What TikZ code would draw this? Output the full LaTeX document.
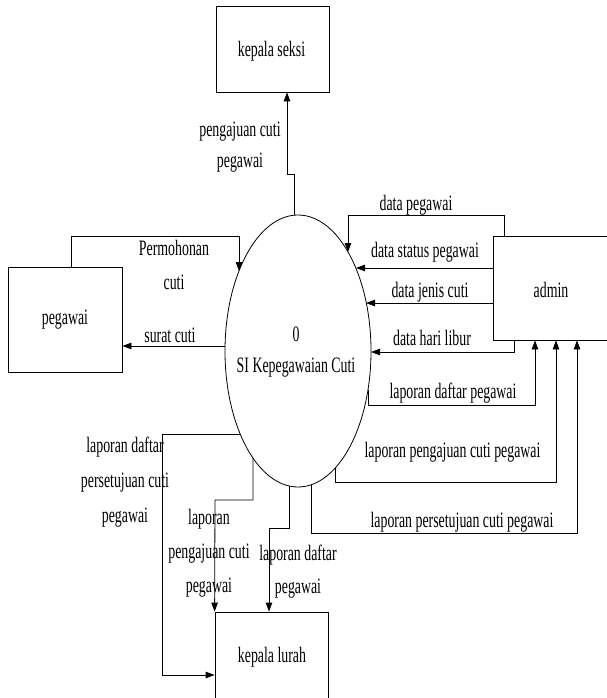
\documentclass[tikz,border=0pt]{standalone}
\usepackage{fontspec}
\setmainfont{Liberation Serif}[FakeStretch=0.63]
\usetikzlibrary{arrows.meta,shapes.geometric}
\begin{document}
\begin{tikzpicture}[x=1pt,y=-1pt,line width=0.8pt,
  every node/.style={font=\fontsize{22}{34}\selectfont, inner sep=0pt},
  ent/.style={draw, rectangle},
  flow/.style={draw, -{Triangle[length=9pt,width=6.5pt]}},
  lbl/.style={align=center}]
\useasboundingbox (0,0) rectangle (606,698);
% entities
\node[ent, minimum width=113pt, minimum height=86pt] (seksi) at (272.5,49) {};
\node (seksitxt) at (271.5,51.5) {kepala seksi};
\node[ent, minimum width=114pt, minimum height=105pt] (pegawai) at (65,319.5) {};
\node (pegawaitxt) at (65,320) {pegawai};
\node[ent, minimum width=116pt, minimum height=104pt] (admin) at (551,288) {};
\node (admintxt) at (551,290) {admin};
\node[ent, minimum width=113pt, minimum height=90pt] (lurah) at (271.5,657) {};
\node (lurahtxt) at (272,657) {kepala lurah};
% process
\node[draw, ellipse, minimum width=146pt, minimum height=272pt] (proc) at (298,351) {};
\node[lbl] (proctxt) at (296,352) {0\\[-3pt]SI Kepegawaian Cuti};
% boundary points on the process
\coordinate (e1) at (239,271);
\coordinate (e2) at (225,346);
\coordinate (e3) at (348,252);
\coordinate (e4) at (356,268);
\coordinate (e5) at (366,303);
\coordinate (e6) at (371,352);
\coordinate (e7) at (368,390);
\coordinate (e8) at (335,468);
\coordinate (e9) at (311,485);
\coordinate (e10) at (240,434);
\coordinate (e11) at (253,458);
\coordinate (e12) at (289,486);
% flows
\draw[flow] ([xshift=-4pt]proc.north) -- (294,174) -- (287,174) -- ([xshift=14.5pt]seksi.south);
\draw[flow] ([xshift=6pt]pegawai.north) |- (239,236) -- (e1);
\draw[flow] (e2) -- (pegawai.east |- e2);
\draw[flow] ([xshift=-47pt]admin.north) |- (348,215) -- (e3);
\draw[flow] (admin.west |- e4) -- (e4);
\draw[flow] (admin.west |- e5) -- (e5);
\draw[flow] ([xshift=-37pt]admin.south) |- (e6);
\draw[flow] (e7) |- (535,405) -- ([xshift=-16pt]admin.south);
\draw[flow] (e8) |- (556,482) -- ([xshift=5pt]admin.south);
\draw[flow] (e9) |- (577,533) -- ([xshift=26pt]admin.south);
\draw[flow] (e10) -- (162,434) |- (lurah.west |- 0,675);
\draw[flow] (e11) |- (215,500) -- (lurah.north west);
\draw[flow] (e12) |- (269,528) -- ([xshift=-2.5pt]lurah.north);
% labels
\node[lbl] (l1) at (240,147.5) {pengajuan cuti\\[-3pt]pegawai};
\node[lbl] (l2) at (174,265) {Permohonan\\cuti};
\node (l3) at (170,335) {surat cuti};
\node (l4) at (416,205) {data pegawai};
\node (l5) at (425,252) {data status pegawai};
\node (l6) at (430,292) {data jenis cuti};
\node (l7) at (432,338) {data hari libur};
\node (l8) at (453,393) {laporan daftar pegawai};
\node (l9) at (452.5,452) {laporan pengajuan cuti pegawai};
\node (l10) at (462,522) {laporan persetujuan cuti pegawai};
\node[lbl] (l11) at (125,482) {laporan daftar\\[1pt]persetujuan cuti\\[1pt]pegawai};
\node[lbl] (l12) at (209,553) {laporan\\pengajuan cuti\\pegawai};
\node[lbl] (l13) at (298,571.5) {laporan daftar\\[-1pt]pegawai};
\end{tikzpicture}
\end{document}
